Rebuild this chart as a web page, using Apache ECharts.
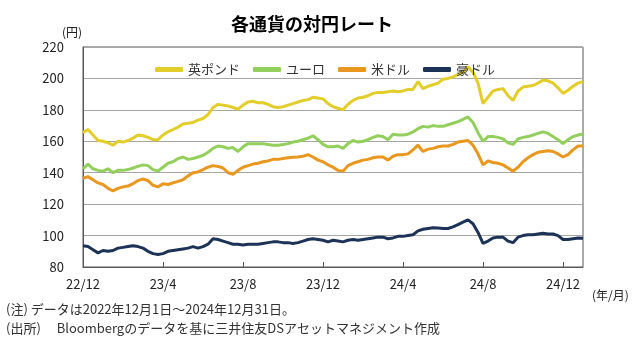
<!DOCTYPE html>
<html>
<head>
<meta charset="utf-8">
<script src="https://cdn.jsdelivr.net/npm/echarts@6/dist/echarts.min.js"></script>
<style>
  html, body { margin: 0; padding: 0; background: #fff; }
  #chart { width: 640px; height: 351px; }
</style>
</head>
<body>
<div id="chart"></div>
<script>
  // x = months since 2022/12/1, one value every quarter month
  var step = 0.25
  var xTickLabels = ['22/12', '23/4', '23/8', '23/12', '24/4', '24/8', '24/12']
  var yTicks = [80, 100, 120, 140, 160, 180, 200, 220]
  var seriesNames = ['英ポンド', 'ユーロ', '米ドル', '豪ドル']

  // 英ポンド
  var gbp = [
    165.5, 167.5, 164, 160.5, 160, 159, 157.5, 160, 159.5, 160.5, 162, 164, 163.5, 162.5, 161, 161,
    164, 166, 167.5, 169, 171, 171.5, 172, 173.5, 174.5, 177, 181.5, 183.5, 183, 182.5, 181.5, 180.5,
    183, 185, 185.5, 184.5, 184.5, 183.5, 182, 181.5, 182, 183, 184, 185, 186, 186.5, 188, 187.5,
    187, 184, 182, 181, 180, 183.5, 186, 187.5, 188, 189, 190.5, 191, 191, 191.5, 192, 191.5,
    192, 193, 193, 198, 193.5, 195, 196, 197, 199.5, 200, 201, 202.5, 204, 207.5, 204, 197,
    184, 188, 192, 193, 193.5, 189, 186, 192, 194.5, 195, 195.5, 197, 199, 198.5, 197, 194,
    190.5, 192.5, 195, 197, 198
  ]
  // ユーロ
  var eur = [
    142.5, 145.5, 142.5, 141.5, 141, 142.5, 140, 141.5, 141.5, 142, 143, 144, 145, 144.5, 142, 141,
    143.5, 146, 147, 149, 150, 148.5, 149, 150, 151, 153, 155.5, 157, 156.5, 155.5, 156, 153.5,
    156.5, 158.5, 158.5, 158.5, 158.5, 158, 157.5, 157.5, 158, 158.5, 159.5, 160, 161, 162, 163.5, 161,
    158, 156.5, 156.5, 157, 155.5, 158.5, 160.5, 159.5, 160, 161, 162.5, 163.5, 163, 161, 164.5, 164,
    164, 164.5, 166, 168, 169.5, 169, 170, 169.5, 169.5, 170.5, 171.5, 172.5, 174, 175.5, 172, 165.5,
    160, 163, 163, 162.5, 161.5, 159, 158, 161.5, 162.5, 163, 164, 165, 166, 165, 163, 161,
    158.5, 161, 163, 164, 164.5
  ]
  // 米ドル
  var usd = [
    136.5, 137.5, 135.5, 133.5, 132.5, 130, 128.5, 130, 131, 131.5, 133, 135, 136, 135, 132, 131,
    133, 132.5, 133.5, 134.5, 135.5, 138, 140, 140.5, 142, 143.5, 144.5, 144, 143, 140, 139, 141.5,
    143.5, 144.5, 145.5, 146, 147, 147.5, 148.5, 148.5, 149, 149.5, 149.8, 150, 150.5, 151.5, 150, 148,
    147, 145, 143.5, 141.5, 141, 144.5, 146, 147, 148, 148.5, 149.5, 150, 150, 148, 150.5, 151.5,
    151.5, 152, 154.5, 157.5, 153.5, 155, 155.5, 156.5, 157, 157, 158, 159.5, 160, 160.5, 157.5, 152,
    145, 147.5, 146.5, 146, 145, 143, 141, 143.5, 147, 149.5, 151.5, 153, 153.5, 154, 153.5, 152,
    150, 151.5, 154.5, 157, 157
  ]
  // 豪ドル
  var aud = [
    93.5, 93, 91, 89, 90.5, 90, 90.5, 92, 92.5, 93, 93.5, 93, 92, 90, 88.5, 88,
    88.5, 90, 90.5, 91, 91.5, 92, 93, 92, 93, 94.5, 98, 97.5, 96.5, 95.5, 94.5, 94.5,
    94, 94.5, 94.5, 94.5, 95, 95.5, 96, 96, 95.5, 95.5, 95, 95.5, 96.5, 97.5, 98, 97.5,
    97, 96, 97, 96.5, 96, 97, 97.5, 97, 97.5, 98, 98.5, 99, 99, 98, 98.5, 99.5,
    99.5, 100, 100.5, 103, 104, 104.5, 105, 104.8, 104.5, 104.5, 105.5, 107, 108.5, 110, 107.5, 102,
    95, 96.5, 98.5, 99, 99, 96.5, 95.5, 99, 100, 100.5, 100.5, 101, 101.5, 101, 101, 100,
    97.5, 97.5, 98, 98.5, 98.3
  ]

  var colors = ['#E3CD2B', '#92CF5C', '#E8971F', '#1C3257']
  var jp = '"Noto Sans CJK JP", sans-serif'

  function toPairs (arr) {
    return arr.map(function (v, i) { return [i * step, v] })
  }

  var chart = echarts.init(document.getElementById('chart'), null, { renderer: 'canvas' })

  chart.setOption({
    backgroundColor: '#fff',
    animation: false,
    color: colors,
    title: {
      text: '各通貨の対円レート',
      left: 307,
      textAlign: 'center',
      top: 10,
      textStyle: { fontFamily: jp, fontSize: 18, fontWeight: 'bold', color: '#000' }
    },
    legend: {
      data: seriesNames,
      left: 150,
      top: 58,
      icon: 'roundRect',
      itemWidth: 28,
      itemHeight: 5,
      itemGap: 13,
      textStyle: { fontFamily: jp, fontSize: 13, color: '#333' }
    },
    grid: {
      left: 83,
      right: 57,
      top: 47,
      bottom: 84,
      show: true,
      borderColor: '#595959',
      borderWidth: 1
    },
    xAxis: {
      type: 'value',
      min: 0,
      max: 25,
      interval: 4,
      axisLine: { lineStyle: { color: '#595959' } },
      axisTick: { inside: true, length: 5, lineStyle: { color: '#595959' } },
      axisLabel: {
        showMaxLabel: false,
        margin: 11,
        fontFamily: jp,
        fontSize: 13,
        color: '#222',
        formatter: function (v) { return xTickLabels[v / 4] || '' }
      },
      splitLine: { show: false }
    },
    yAxis: {
      type: 'value',
      min: yTicks[0],
      max: yTicks[yTicks.length - 1],
      interval: 20,
      axisLine: { show: true, lineStyle: { color: '#595959' } },
      axisTick: { show: false },
      axisLabel: { margin: 19, fontFamily: jp, fontSize: 13, color: '#222' },
      splitLine: { lineStyle: { color: '#a6a6a6', width: 1 } }
    },
    graphic: [
      { type: 'text', left: 62, top: 26, style: { text: '(円)', font: '12px ' + jp, fill: '#222' } },
      { type: 'text', left: 592, top: 289, style: { text: '(年/月)', font: '12px ' + jp, fill: '#222' } },
      { type: 'text', left: 6, top: 303, style: { text: '(注) データは2022年12月1日～2024年12月31日。', font: '13px ' + jp, fill: '#333' } },
      { type: 'text', left: 6, top: 322, style: { text: '(出所)　 Bloombergのデータを基に三井住友DSアセットマネジメント作成', font: '13px ' + jp, fill: '#333' } }
    ],
    series: [
      { name: seriesNames[0], type: 'line', data: toPairs(gbp), showSymbol: false, lineStyle: { width: 3 } },
      { name: seriesNames[1], type: 'line', data: toPairs(eur), showSymbol: false, lineStyle: { width: 3 } },
      { name: seriesNames[2], type: 'line', data: toPairs(usd), showSymbol: false, lineStyle: { width: 3 } },
      { name: seriesNames[3], type: 'line', data: toPairs(aud), showSymbol: false, lineStyle: { width: 3 } }
    ]
  })
</script>
</body>
</html>
